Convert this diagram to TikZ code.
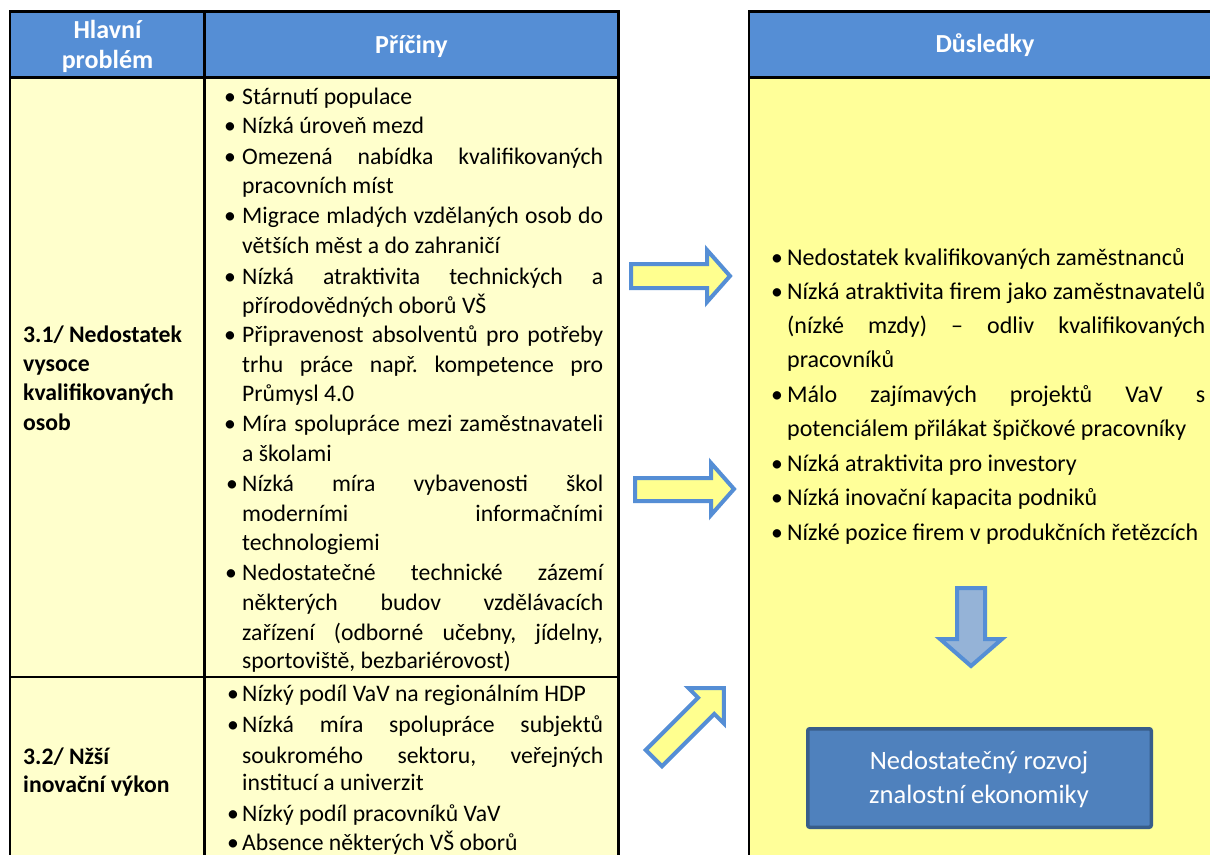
\documentclass[tikz,border=0pt]{standalone}
\usepackage{fontspec}
\setmainfont{Carlito}
\frenchspacing
\definecolor{hdrblue}{HTML}{558ED5}
\definecolor{paleyel}{HTML}{FFFFCC}
\definecolor{brightyel}{HTML}{FFFF99}
\definecolor{arrowblue}{HTML}{558ED5}
\definecolor{arrowyel}{HTML}{FFFF8F}
\definecolor{downfill}{HTML}{95B3D7}
\definecolor{boxblue}{HTML}{4F81BD}
\definecolor{boxborder}{HTML}{385D8A}
\newcounter{lc}
\newcounter{bc}
\newcommand\JL[4]{\stepcounter{lc}\node[txt] (l\arabic{lc}) at (#1,#2) {\makebox[#3pt][s]{#4}};}
\newcommand\NL[3]{\stepcounter{lc}\node[txt] (l\arabic{lc}) at (#1,#2) {#3};}
\newcommand\BL[2]{\stepcounter{bc}\node[bul] (b\arabic{bc}) at (#1,#2) {•};}
\begin{document}
\begin{tikzpicture}[x=1pt,y=-1pt,
  txt/.style={anchor=base west,inner sep=0pt,font=\fontsize{23.7}{28}\selectfont},
  btxt/.style={anchor=base west,inner sep=0pt,font=\fontsize{23.7}{28}\selectfont\bfseries},
  hdr/.style={anchor=base,inner sep=0pt,text=white,font=\fontsize{26}{30}\selectfont\bfseries},
  bul/.style={anchor=base,inner sep=0pt,font=\fontsize{23.7}{28}\selectfont},
  tline/.style={line width=2.5pt,black},
  blockarrow/.style={draw=arrowblue,fill=arrowyel,line width=4pt,line join=miter},
  downarrow/.style={draw=arrowblue,fill=downfill,line width=4pt,line join=miter},
  restext/.style={anchor=base,inner sep=0pt,text=white,font=\fontsize{26.5}{32}\selectfont}]
\useasboundingbox (0,0) rectangle (1210,854);
\fill[white] (0,0) rectangle (1210,854);
\clip (0,0) rectangle (1210,854);
% ---------- left table
\fill[paleyel] (10,77.5) rectangle (618.5,870);
\fill[hdrblue] (10,11.7) rectangle (618.5,77.5);
\draw[tline] (10,870) -- (10,11.7) -- (618.5,11.7) -- (618.5,870);
\draw[tline] (10,77.5) -- (618.5,77.5);
\draw[tline] (204.5,11.7) -- (204.5,870);
\draw[tline] (10,677) -- (618.5,677);
% ---------- right table
\fill[brightyel] (749,77.5) rectangle (1222,870);
\fill[hdrblue] (749,11.7) rectangle (1222,77.5);
\draw[tline] (749,870) -- (749,11.7) -- (1222,11.7) -- (1222,870);
\draw[tline] (749,77.5) -- (1222,77.5);
% ---------- headers
\node[hdr] (h1a) at (107.5,38.5) {Hlavní};
\node[hdr] (h1b) at (107.5,68) {problém};
\node[hdr] (h2) at (411.5,53.3) {Příčiny};
\node[hdr] (h3) at (985,52) {Důsledky};
% ---------- row labels
\node[btxt] (r1a) at (23,342) {3.1/ Nedostatek};
\node[btxt] (r1b) at (23,371.5) {vysoce};
\node[btxt] (r1c) at (23,400.5) {kvalifikovaných};
\node[btxt] (r1d) at (23,430) {osob};
\node[btxt] (r2a) at (23,764) {3.2/ Nžší};
\node[btxt] (r2b) at (23,792) {inovační výkon};
% ---------- causes
\BL{230}{104}\NL{242}{104}{Stárnutí populace}
\BL{230}{133.5}\NL{242}{133.5}{Nízká úroveň mezd}
\BL{230}{164}\JL{242}{164}{361}{Omezená nabídka kvalifikovaných}
\NL{242}{193}{pracovních míst}
\BL{230}{223.3}\JL{242}{223.3}{361}{Migrace mladých vzdělaných osob do}
\NL{242}{253}{větších měst a do zahraničí}
\BL{230}{284}\JL{242}{284}{361}{Nízká atraktivita technických a}
\NL{242}{313.5}{přírodovědných oborů VŠ}
\BL{230}{342.7}\JL{242}{342.7}{361}{Připravenost absolventů pro potřeby}
\JL{242}{372.5}{361}{trhu práce např. kompetence pro}
\NL{242}{401.7}{Průmysl 4.0}
\BL{230}{431.7}\JL{242}{431.7}{361}{Míra spolupráce mezi zaměstnavateli}
\NL{242}{461}{a školami}
\BL{232}{491.7}\JL{242}{491.7}{361}{Nízká míra vybavenosti škol}
\JL{242}{521.5}{361}{moderními informačními}
\NL{242}{550}{technologiemi}
\BL{231}{580.7}\JL{242}{580.7}{361}{Nedostatečné technické zázemí}
\JL{242}{610}{361}{některých budov vzdělávacích}
\JL{242}{640}{361}{zařízení (odborné učebny, jídelny,}
\NL{242}{668.3}{sportoviště, bezbariérovost)}
\BL{233}{701.7}\NL{242}{701.7}{Nízký podíl VaV na regionálním HDP}
\BL{233}{732.7}\JL{242}{732.7}{361}{Nízká míra spolupráce subjektů}
\JL{242}{763}{361}{soukromého sektoru, veřejných}
\NL{242}{790.7}{institucí a univerzit}
\BL{233}{821.7}\NL{242}{821.7}{Nízký podíl pracovníků VaV}
\BL{233}{850}\NL{242}{850}{Absence některých VŠ oborů}
% ---------- consequences
\begin{scope}[txt/.append style={font=\fontsize{24}{28}\selectfont}]
\BL{777}{265}\NL{787}{265}{Nedostatek kvalifikovaných zaměstnanců}
\BL{777}{299.5}\JL{787}{299.5}{418}{Nízká atraktivita firem jako zaměstnavatelů}
\JL{787}{333.5}{418}{(nízké mzdy) – odliv kvalifikovaných}
\NL{787}{367}{pracovníků}
\BL{777}{402}\JL{787}{402}{418}{Málo zajímavých projektů VaV s}
\NL{787}{436.5}{potenciálem přilákat špičkové pracovníky}
\BL{777}{471}\NL{787}{471}{Nízká atraktivita pro investory}
\BL{777}{505.5}\NL{787}{505.5}{Nízká inovační kapacita podniků}
\BL{777}{540}\NL{787}{540}{Nízké pozice firem v produkčních řetězcích}
\end{scope}
% ---------- block arrows
\draw[blockarrow] (631,264) -- (707,264) -- (707,250) -- (730,276) -- (707,302) -- (707,288) -- (631,288) -- cycle;
\draw[blockarrow] (635,478) -- (711,478) -- (711,463) -- (734,489) -- (711,515) -- (711,501) -- (635,501) -- cycle;
\begin{scope}[shift={(726,686)},rotate=45]
\draw[blockarrow] (-102,-11.5) -- (-28,-11.5) -- (-28,-25) -- (-3,0) -- (-28,25) -- (-28,11.5) -- (-102,11.5) -- cycle;
\end{scope}
\draw[downarrow] (957,588) -- (985,588) -- (985,639) -- (1002,639) -- (971,666) -- (940,639) -- (957,639) -- cycle;
% ---------- result box
\node[draw=boxborder,fill=boxblue,line width=3.5pt,minimum width=343.5pt,minimum height=98.5pt,rounded corners=2pt,inner sep=0pt] (res) at (979.5,778) {};
\node[restext] (res1) at (979,769.3) {Nedostatečný rozvoj};
\node[restext] (res2) at (979,803) {znalostní ekonomiky};
\end{tikzpicture}
\end{document}
